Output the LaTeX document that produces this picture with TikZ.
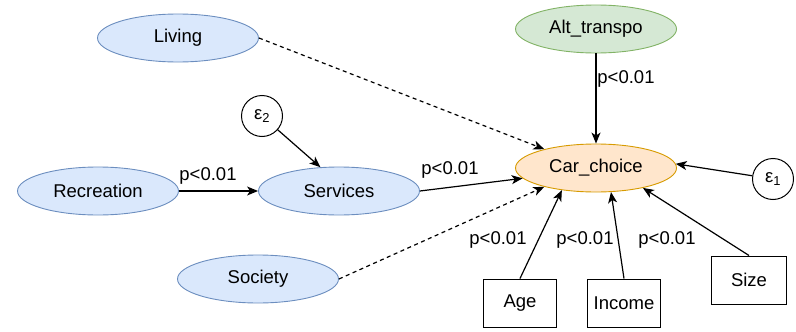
\documentclass[tikz,border=0pt]{standalone}
\usepackage{fontspec}
\setmainfont{Liberation Sans}
\usetikzlibrary{shapes.geometric,arrows.meta}
\definecolor{bluefill}{HTML}{DAE8FC}
\definecolor{bluedraw}{HTML}{6C8EBF}
\definecolor{greenfill}{HTML}{D5E8D4}
\definecolor{greendraw}{HTML}{82B366}
\definecolor{orangefill}{HTML}{FFE6CC}
\definecolor{orangedraw}{HTML}{D79B00}
\tikzset{
  every node/.style={font=\fontsize{18.5}{22}\selectfont},
  latent/.style={ellipse, draw=bluedraw, fill=bluefill, line width=0.9pt,
    minimum width=161pt, minimum height=48pt, inner sep=0pt},
  exogen/.style={latent, draw=greendraw, fill=greenfill},
  outcome/.style={latent, draw=orangedraw, fill=orangefill},
  observed/.style={rectangle, draw=black, line width=1pt,
    minimum width=73pt, minimum height=48pt, inner sep=0pt},
  errterm/.style={circle, draw=black, line width=1pt, minimum size=41pt, inner sep=0pt},
  path/.style={-{Stealth[length=11pt,width=9pt,inset=3pt]}, line width=1.2pt},
  weakpath/.style={path, dash pattern=on 4pt off 3.5pt},
  plabel/.style={inner sep=0pt}
}
\begin{document}
\begin{tikzpicture}[x=1pt,y=-1pt]
  \useasboundingbox (0,0) rectangle (796,332);

  % latent constructs
  \node[latent] (living) at (178,38) {Living};
  \node[latent] (recreation) at (98,191) {Recreation};
  \node[latent] (services) at (339,191) {Services};
  \node[latent] (society) at (258,279) {Society};
  \node[exogen] (alt) at (596,29) {Alt\_transpo};
  \node[outcome] (car) at (596,168) {Car\_choice};

  % error terms
  \node[errterm] (eps2) at (262,116) {ε\textsubscript{2}};
  \node[errterm] (eps1) at (773,179) {ε\textsubscript{1}};

  % observed covariates
  \node[observed] (age) at (520,303) {Age};
  \node[observed] (income) at (624,303) {Income};
  \node[observed, minimum width=75pt] (size) at (749,280) {Size};

  % structural paths
  \draw[weakpath] (living.east) -- (car.160);
  \draw[weakpath] (society.east) -- (car.200);
  \draw[path] (recreation.east) -- (services.west);
  \draw[path] (eps2) -- (services.128);
  \draw[path] (services.east) -- (car.188);
  \draw[path] (alt.south) -- (car.north);
  \draw[path] (eps1) -- (car.3);
  \draw[path] (age.north) -- (car.213);
  \draw[path] (income.north) -- (car.302);
  \draw[path] (size.north) -- (car.337);

  % significance labels
  \node[plabel] (l1) at (208,176) {p<0.01};
  \node[plabel] (l2) at (450,170) {p<0.01};
  \node[plabel] (l3) at (626,79) {p<0.01};
  \node[plabel] (l4) at (498,240) {p<0.01};
  \node[plabel] (l5) at (585,240) {p<0.01};
  \node[plabel] (l6) at (667,240) {p<0.01};
\end{tikzpicture}
\end{document}
